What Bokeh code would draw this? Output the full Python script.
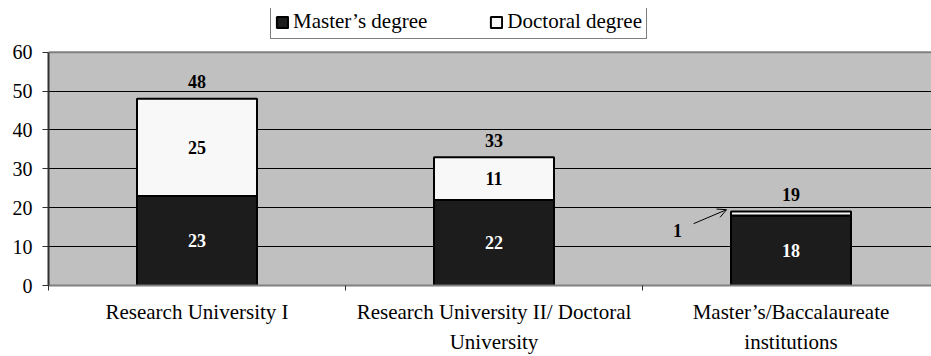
from bokeh.plotting import figure
from bokeh.models import (ColumnDataSource, Range1d, FixedTicker, Legend, LegendItem,
                          Arrow, OpenHead, BoxAnnotation, Span)
from bokeh.core.properties import value
from bokeh.embed import file_html
from bokeh.resources import INLINE

# Data: student counts by institution type
categories = ["Research University I",
              "Research University II/ Doctoral\nUniversity",
              "Master\u2019s/Baccalaureate\ninstitutions"]
masters = [23, 22, 18]
doctoral = [25, 11, 1]
y_ticks = [0, 10, 20, 30, 40, 50, 60]
series_names = ["Master\u2019s degree", "Doctoral degree"]

FONT = "Liberation Serif"
DARK = "#1c1c1c"
LIGHT = "#f8f8f8"
Y_MAX = y_ticks[-1]

x = [i + 0.5 for i in range(len(categories))]
totals = [m + d for m, d in zip(masters, doctoral)]
src = ColumnDataSource(dict(
    x=x,
    masters=masters,
    doctoral=doctoral,
    total=totals,
    m_mid=[m / 2 for m in masters],
    d_mid=[m + d / 2 for m, d in zip(masters, doctoral)],
    m_lbl=[str(v) for v in masters],
    d_lbl=[str(v) for v in doctoral],
    t_lbl=[str(v) for v in totals],
))

# the frame also holds the legend strip above the 0-60 plotting area
p = figure(width=931, height=356, output_backend="svg", toolbar_location=None,
           x_range=Range1d(0, 2.973), y_range=Range1d(0, 71.23),
           min_border_left=48, min_border_right=0, min_border_top=8,
           min_border_bottom=69)
p.background_fill_color = "white"
p.border_fill_color = "white"
p.outline_line_color = None

# grey plotting area and its top edge
p.add_layout(BoxAnnotation(bottom=0, top=Y_MAX, fill_color="#c0c0c0", fill_alpha=1,
                           line_color=None, level="image"))
p.add_layout(Span(location=Y_MAX, dimension="width", line_color="#808080",
                  line_width=2, level="underlay"))

p.xgrid.visible = False
p.ygrid.ticker = FixedTicker(ticks=y_ticks[1:-1])
p.ygrid.grid_line_color = "black"
p.ygrid.grid_line_width = 1

p.yaxis.ticker = FixedTicker(ticks=y_ticks)
p.yaxis.bounds = (0, Y_MAX)
p.yaxis.axis_line_color = "#303030"
p.yaxis.axis_line_width = 2
p.yaxis.major_tick_out = 6
p.yaxis.major_tick_in = 0
p.yaxis.minor_tick_out = 0
p.yaxis.major_tick_line_color = "#303030"
p.yaxis.major_label_text_font = FONT
p.yaxis.major_label_text_font_size = "20px"
p.yaxis.major_label_text_color = "black"
p.yaxis.major_label_standoff = 10

# x axis: labels at category centres, ticks at category boundaries
p.xaxis.ticker = FixedTicker(ticks=x, minor_ticks=[0, 1, 2, 3])
p.xaxis.major_label_overrides = {xi: c for xi, c in zip(x, categories)}
p.xaxis.major_tick_out = 0
p.xaxis.major_tick_in = 0
p.xaxis.minor_tick_out = 5
p.xaxis.minor_tick_in = 0
p.xaxis.minor_tick_line_color = "#303030"
p.xaxis.axis_line_color = "#808080"
p.xaxis.axis_line_width = 2
p.xaxis.major_label_text_font = FONT
p.xaxis.major_label_text_font_size = "21px"
p.xaxis.major_label_text_color = "black"
p.xaxis.major_label_text_line_height = 1.25
p.xaxis.major_label_standoff = 9

bw = 0.404
r_m = p.vbar(x="x", bottom=0, top="masters", width=bw, source=src,
             fill_color=DARK, line_color="black", line_width=2)
r_d = p.vbar(x="x", bottom="masters", top="total", width=bw, source=src,
             fill_color=LIGHT, line_color="black", line_width=2)

lbl = dict(text_font=value(FONT), text_font_style="bold", text_font_size="18px",
           text_align="center", text_baseline="middle")
p.text(x="x", y="m_mid", text="m_lbl", source=src, text_color="white", **lbl)
src_d = ColumnDataSource(dict(x=x[:2], y=src.data["d_mid"][:2], t=src.data["d_lbl"][:2]))
p.text(x="x", y="y", text="t", source=src_d, text_color="black", **lbl)
p.text(x="x", y="total", text="t_lbl", source=src, text_color="black",
       y_offset=-17, **lbl)

# callout for the thin doctoral segment of the third bar
p.text(x=[2.118], y=[14.1], text=[str(doctoral[2])], text_color="black", **lbl)
p.add_layout(Arrow(x_start=2.172, y_start=15.9, x_end=2.283, y_end=19.5,
                   line_color="black", line_width=1,
                   end=OpenHead(size=9, line_color="black", line_width=1)))

legend = Legend(items=[LegendItem(label=series_names[0], renderers=[r_m]),
                       LegendItem(label=series_names[1], renderers=[r_d])],
                orientation="horizontal", location=(222, 246))
legend.label_text_font = FONT
legend.label_text_font_size = "21px"
legend.label_text_color = "black"
legend.glyph_width = 14
legend.glyph_height = 14
legend.label_standoff = 4
legend.spacing = 62
legend.padding = 4
legend.margin = 0
legend.border_line_color = "black"
legend.border_line_width = 1
legend.background_fill_color = "white"
legend.background_fill_alpha = 1
legend.label_height = 22
p.add_layout(legend, "center")

open("out.html", "w").write(file_html(p, INLINE))
